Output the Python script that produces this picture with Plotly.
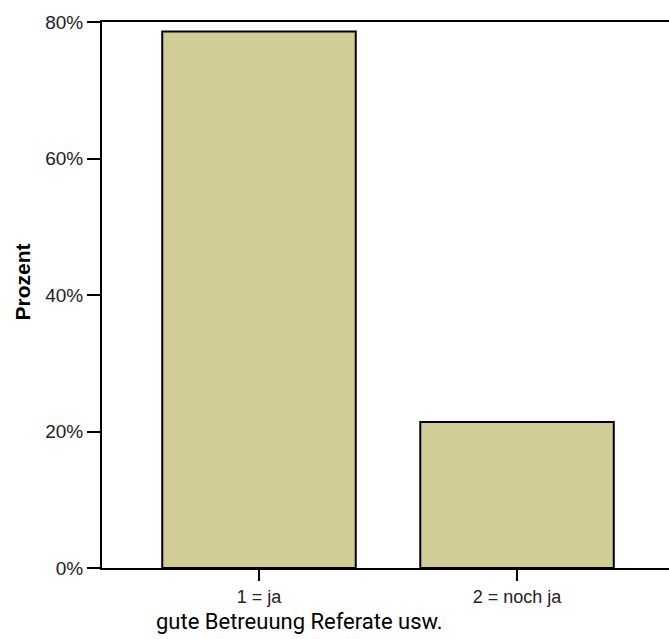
import plotly.graph_objects as go

categories = ["1 = ja", "2 = noch ja"]
percent = [78.6, 21.4]
y_ticks = [0, 20, 40, 60, 80]
y_tick_labels = ["0%", "20%", "40%", "60%", "80%"]
x_title = "gute Betreuung Referate usw."
y_title = "Prozent"

fig = go.Figure()
fig.add_trace(go.Bar(
    x=[0, 1], y=percent, width=0.75,
    marker=dict(color="#D2CD97", line=dict(color="black", width=2)),
    hoverinfo="skip",
))

fig.update_layout(
    width=669, height=639,
    margin=dict(l=102, r=0, t=22, b=71),
    paper_bgcolor="white", plot_bgcolor="white",
    showlegend=False,
    xaxis=dict(
        range=[-0.6085, 1.589],
        tickmode="array", tickvals=[0, 1], ticktext=categories,
        ticks="outside", ticklen=11, tickwidth=2, tickcolor="black",
        showline=True, linecolor="black", linewidth=2, mirror=True,
        showgrid=False, zeroline=False,
        tickfont=dict(family="Liberation Sans", size=18, color="#222"),
    ),
    yaxis=dict(
        range=[0, 80],
        tickmode="array", tickvals=y_ticks, ticktext=y_tick_labels,
        ticks="outside", ticklen=13, tickwidth=2, tickcolor="black",
        showline=True, linecolor="black", linewidth=2,
        showgrid=False, zeroline=False,
        tickfont=dict(family="Liberation Sans", size=19, color="#222"),
    ),
    annotations=[
        dict(text=x_title, xref="paper", yref="paper", x=0.349, y=-0.0989,
             xanchor="center", yanchor="middle", showarrow=False,
             font=dict(family="Roboto", size=22, color="black")),
        dict(text="<b>" + y_title + "</b>", xref="paper", yref="paper",
             x=-0.141, y=0.523, textangle=-90,
             xanchor="center", yanchor="middle", showarrow=False,
             font=dict(family="Liberation Sans", size=21, color="black")),
    ],
)

fig.write_html("out.html", config={"displayModeBar": False},
               post_script="document.body.style.margin='0';")
